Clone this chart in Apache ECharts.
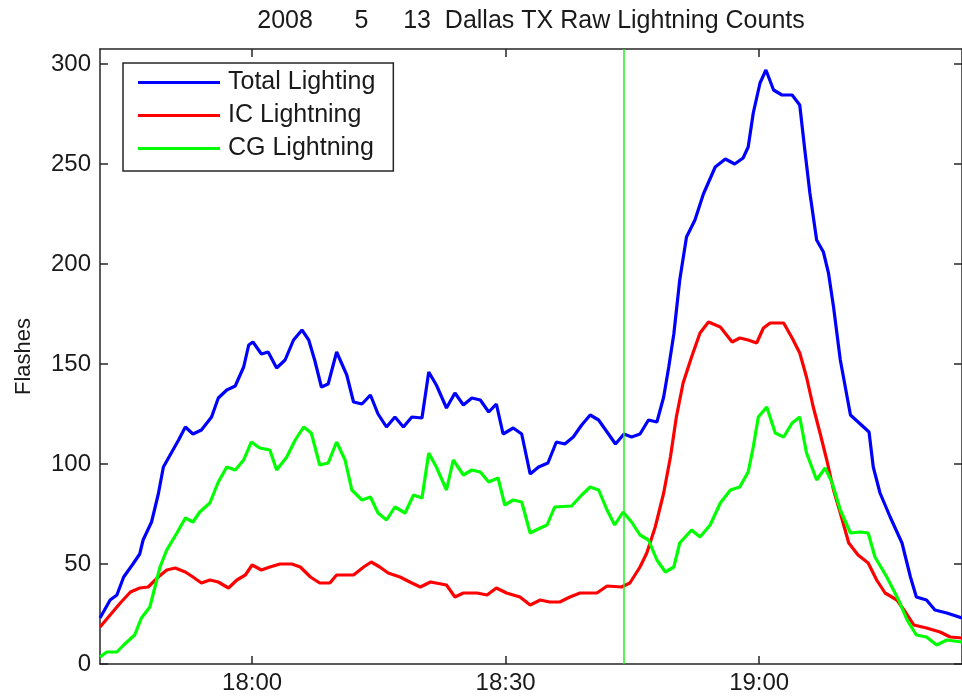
<!DOCTYPE html>
<html>
<head>
<meta charset="utf-8">
<script src="https://cdn.jsdelivr.net/npm/echarts@6/dist/echarts.min.js"></script>
<style>
html,body{margin:0;padding:0;background:#fff;}
#chart{width:962px;height:698px;}
</style>
</head>
<body>
<div id="chart"></div>
<script>
// ---- data (time = minutes after startTime, value = flashes) ----
const startTime = '17:42';
const endTime = '19:24';
const markerTime = '18:44';
const xTickLabels = ['18:00', '18:30', '19:00'];
const yTickValues = [0, 50, 100, 150, 200, 250, 300];
const yMax = 307.5;
const seriesNames = ['Total Lighting', 'IC Lightning', 'CG Lightning'];

const totalData = [[0,23],[1.2,32],[2,34.5],[2.8,43.5],[3.9,50],[4.7,55],[5.1,62],[6.1,71],[6.9,85],[7.5,98.5],[8.3,104.5],[9.3,112],[10.1,118.5],[11,115],[12,117],[13.2,123.5],[14,133],[15,137],[16,139],[17,148.5],[17.6,159.5],[18.1,161],[19.1,155],[19.9,156],[20.9,148],[21.9,152],[22.9,162],[23.9,167],[24.7,162],[25.4,152],[26.2,138.5],[27,140],[28,156],[29.2,144.5],[30,131],[31,130],[32,134.5],[32.9,125],[33.9,118.5],[34.9,123.5],[35.9,118.5],[36.9,123.5],[38.1,123],[38.9,146],[39.8,139.5],[41,128],[42,135.5],[43,129.5],[44,133],[45,132],[46,126],[46.9,130],[47.7,115],[48.9,118],[49.9,115],[50.9,95],[51.9,98.5],[53,100.5],[54,111],[55,110],[56,113.5],[57,119.5],[58,124.5],[59,122],[60,116],[61,110],[62,115],[62.9,113.5],[63.9,115],[64.9,122],[65.9,121],[66.7,133.5],[67.3,148.5],[67.9,165],[68.6,192],[69.4,213.5],[70.4,222],[71.4,235],[72.8,248.5],[74,252.5],[75.1,250],[76.1,253],[76.7,258.5],[77.3,275.5],[78.1,290.5],[78.8,297],[79.7,287],[80.7,284.5],[81.9,284.5],[82.8,279.5],[83.4,257],[84,235.5],[84.8,212],[85.6,206],[86.2,195.5],[86.8,178.5],[87.6,152],[88.8,124.5],[91,116],[91.5,98.5],[92.3,85.5],[93.5,73.5],[94.9,60.5],[95.9,43.5],[96.6,33.5],[97.8,32],[98.8,27],[100.2,25.5],[102,23]];

const icData = [[0,18.5],[1.2,24.5],[2.4,30.5],[3.6,36],[4.7,38],[5.7,38.5],[6.9,43.5],[7.9,47],[8.9,48],[10.1,46],[11,43.5],[12,40.5],[13,42],[14,41],[15.2,38],[16.2,42],[17.2,44.5],[18,49.5],[19.1,47],[20.1,48.5],[21.3,50],[22.7,50],[23.7,48.5],[24.9,43.5],[26,40.5],[27.2,40.5],[28,44.5],[30,44.5],[31.2,48.5],[32.1,51],[33.1,48.5],[34.1,45.5],[35.5,43.5],[36.9,40.5],[37.9,38.5],[39.1,41],[41,39.5],[42,33.5],[43,35.5],[44.6,35.5],[45.8,34.5],[46.9,38],[48.1,35.5],[49.7,33.5],[50.9,29.5],[52.1,32],[53.2,31],[54.4,31],[55.6,33.5],[56.8,35.5],[58.8,35.5],[60,39],[61.7,38.5],[62.7,40.5],[63.9,48.5],[64.7,55.5],[65.7,68.5],[66.7,85.5],[67.5,103.5],[68.2,123.5],[69,140.5],[70,153.5],[71,165.5],[72,171],[73.4,168.5],[74.8,161],[75.7,163],[76.7,162],[77.7,160.5],[78.5,168],[79.3,170.5],[80.9,170.5],[81.9,163],[82.8,155.5],[83.6,143.5],[84.4,128.5],[85.2,115.5],[86,102],[86.8,87],[87.6,75.5],[88.6,60.5],[89.7,54.5],[90.9,50.5],[91.9,42],[92.9,35.5],[94.3,32],[95.3,26],[96.3,19.5],[97.8,18],[99.4,16],[100.6,13.5],[102,13]];

const cgData = [[0,3.5],[0.8,6],[2,6],[2.8,9.5],[4.1,14.5],[4.9,23],[5.9,28.5],[6.5,38.5],[7.1,48.5],[7.9,57],[9.1,65.5],[10.1,73],[11,71],[11.8,76],[13,80.5],[14,91],[15,98.5],[16,97],[17,102],[17.9,111],[18.9,108],[20.1,107],[20.9,97],[22.1,103.5],[23.1,112],[24.1,118.5],[25,115.5],[26,99.5],[27,100.5],[28,111],[29,102],[29.8,87],[31,82],[32,83.5],[32.9,75.5],[33.9,72],[34.9,78.5],[36.1,75.5],[37.1,84.5],[38.1,83],[38.9,105.5],[39.8,98.5],[41,87],[41.8,102],[43,94.5],[44,97],[45,96],[46,91],[47.1,93],[47.9,79.5],[48.9,82],[49.9,81],[50.9,65.5],[52.1,68],[52.9,69.5],[53.8,78.5],[55.8,79],[57,84.5],[58,88.5],[59,87],[60,77],[60.9,69.5],[61.9,76],[62.9,71],[63.9,64.5],[64.9,62],[65.9,52],[66.9,46],[67.9,48.5],[68.6,60.5],[70,67],[71,63.5],[72.2,69.5],[73.4,80.5],[74.6,87],[75.7,88.5],[76.7,96],[77.3,108.5],[77.9,123.5],[78.9,128.5],[79.9,115.5],[80.9,113.5],[81.9,120.5],[82.8,123.5],[83.6,105.5],[84.8,92],[85.8,98],[86.6,91],[87.6,77],[88.8,65.5],[90,66],[90.9,65.5],[91.7,53.5],[93.1,43.5],[94.5,32],[95.5,22],[96.6,14.5],[97.8,13.5],[99,9.5],[100.2,12],[102,11]];

// ---- helpers ----
function toMin(s) { const p = s.split(':'); return (+p[0]) * 60 + (+p[1]); }
function fmt(v) { const h = Math.floor(v / 60); const m = Math.round(v - h * 60); return h + ':' + (m < 10 ? '0' + m : m); }
const x0 = toMin(startTime);
const x1 = toMin(endTime);
const xTicks = xTickLabels.map(toMin);
const toXY = arr => arr.map(d => [x0 + d[0], d[1]]);

const FONT = "'Liberation Sans', Arial, sans-serif";
const AXC = '#262626';

const chart = echarts.init(document.getElementById('chart'), null, { renderer: 'canvas' });

const commonX = {
  type: 'value', min: x0, max: x1,
  axisLine: { show: true, onZero: false, lineStyle: { color: AXC, width: 1.5 } },
  axisTick: { show: true, inside: true, length: 8, customValues: xTicks, lineStyle: { color: AXC, width: 1.5 } },
  splitLine: { show: false }
};
const commonY = {
  type: 'value', min: 0, max: yMax,
  axisLine: { show: true, onZero: false, lineStyle: { color: AXC, width: 1.5 } },
  axisTick: { show: true, inside: true, length: 8, customValues: yTickValues, lineStyle: { color: AXC, width: 1.5 } },
  splitLine: { show: false }
};

const option = {
  animation: false,
  backgroundColor: '#ffffff',
  title: {
    text: '2008      5     13  Dallas TX Raw Lightning Counts',
    left: 531, top: 9, textAlign: 'center', padding: 0,
    textStyle: { fontFamily: FONT, fontSize: 25, fontWeight: 'normal', color: '#1a1a1a' }
  },
  grid: { left: 100, right: 0, top: 49, bottom: 34, containLabel: false, outerBoundsMode: 'none' },
  legend: {
    orient: 'vertical', left: 123, top: 63,
    padding: [7, 18, 10, 15],
    icon: 'rect',
    itemWidth: 82, itemHeight: 3, itemGap: 8,
    backgroundColor: '#ffffff', borderColor: AXC, borderWidth: 1.5, borderRadius: 0,
    textStyle: { fontFamily: FONT, fontSize: 25, lineHeight: 25, color: '#1a1a1a', padding: [0, 0, 0, 3] },
    data: seriesNames
  },
  xAxis: [
    Object.assign({}, commonX, {
      position: 'bottom',
      axisLabel: { show: true, customValues: xTicks, formatter: fmt, margin: 7, fontFamily: FONT, fontSize: 24, color: '#1a1a1a' }
    }),
    Object.assign({}, commonX, { position: 'top', axisLabel: { show: false } })
  ],
  yAxis: [
    Object.assign({}, commonY, {
      position: 'left',
      name: 'Flashes', nameLocation: 'middle', nameRotate: 90, nameGap: 65,
      nameTextStyle: { fontFamily: FONT, fontSize: 22, color: '#1a1a1a' },
      axisLabel: { show: true, customValues: yTickValues, margin: 9, fontFamily: FONT, fontSize: 24, color: '#1a1a1a' }
    }),
    Object.assign({}, commonY, { position: 'right', axisLabel: { show: false } })
  ],
  series: [
    {
      name: seriesNames[0], type: 'line', data: toXY(totalData), symbol: 'none', showSymbol: false,
      lineStyle: { color: '#0000ff', width: 3.2 }, itemStyle: { color: '#0000ff' }, z: 3
    },
    {
      name: seriesNames[1], type: 'line', data: toXY(icData), symbol: 'none', showSymbol: false,
      lineStyle: { color: '#ff0000', width: 3.2 }, itemStyle: { color: '#ff0000' }, z: 3
    },
    {
      name: seriesNames[2], type: 'line', data: toXY(cgData), symbol: 'none', showSymbol: false,
      lineStyle: { color: '#00ff00', width: 3.2 }, itemStyle: { color: '#00ff00' }, z: 3,
      markLine: {
        silent: true, symbol: ['none', 'none'], label: { show: false },
        lineStyle: { color: '#22ee22', width: 1.5, type: 'solid' },
        data: [{ xAxis: toMin(markerTime) }]
      }
    }
  ]
};
chart.setOption(option);
</script>
</body>
</html>
